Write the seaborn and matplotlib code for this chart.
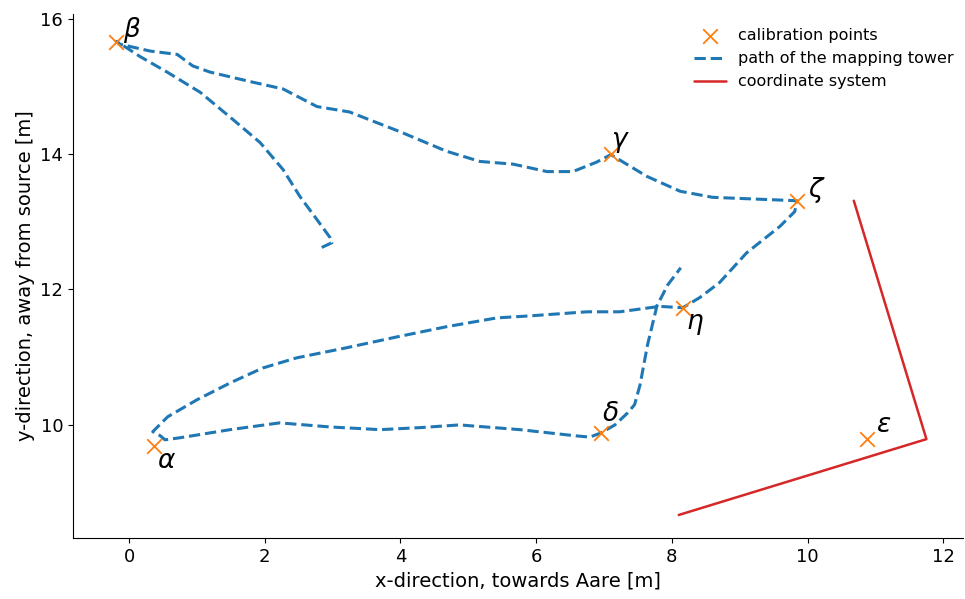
import matplotlib
matplotlib.use("Agg")
import matplotlib.pyplot as plt
import seaborn as sns
import pandas as pd

# Calibration points (name, x, y) in metres
point_names = [r"$\alpha$", r"$\beta$", r"$\gamma$", r"$\delta$", r"$\varepsilon$", r"$\zeta$", r"$\eta$"]
point_x = [0.37, -0.19, 7.10, 6.95, 10.88, 9.84, 8.16]
point_y = [9.69, 15.66, 14.00, 9.88, 9.79, 13.31, 11.72]

# Recorded path of the mapping tower
path_x = [2.84, 2.99, 2.96, 2.77, 2.52, 2.27, 1.93, 1.53, 1.05, 0.56, 0.16, -0.10, -0.19,
          -0.13, 0.31, 0.71, 0.94, 1.19, 1.78, 2.27, 2.77, 3.25, 3.99, 4.18, 4.68, 5.17,
          5.66, 6.16, 6.54, 6.89, 7.10, 7.63, 8.12, 8.60, 9.34, 9.84, 9.81, 9.59, 9.10,
          8.70, 8.41, 8.16, 7.82, 7.23, 6.75, 5.91, 5.42, 4.68, 3.95, 3.21, 2.47, 1.97,
          1.49, 1.00, 0.57, 0.35, 0.46, 0.53, 0.75, 1.49, 2.22, 2.96, 3.70, 4.29, 4.87,
          5.76, 6.57, 6.79, 6.95, 7.16, 7.35, 7.45, 7.53, 7.64, 7.78, 7.94, 8.13]
path_y = [12.62, 12.69, 12.77, 13.03, 13.37, 13.77, 14.17, 14.51, 14.91, 15.21, 15.44, 15.61, 15.66,
          15.62, 15.52, 15.47, 15.30, 15.21, 15.07, 14.96, 14.70, 14.62, 14.33, 14.25, 14.04, 13.89,
          13.85, 13.74, 13.74, 13.88, 13.99, 13.67, 13.45, 13.36, 13.33, 13.31, 13.15, 12.93, 12.54,
          12.10, 11.88, 11.73, 11.75, 11.67, 11.67, 11.61, 11.58, 11.45, 11.30, 11.14, 10.99, 10.84,
          10.62, 10.37, 10.12, 9.90, 9.84, 9.78, 9.81, 9.93, 10.03, 9.97, 9.93, 9.96, 10.00,
          9.93, 9.84, 9.82, 9.88, 10.00, 10.18, 10.30, 10.59, 11.18, 11.76, 12.07, 12.32]

# Local coordinate system axes
coord_x = [10.68, 11.75, 8.10]
coord_y = [13.31, 9.79, 8.67]

sns.set_theme(style="ticks", rc={
    "axes.edgecolor": "black", "text.color": "black", "axes.labelcolor": "black",
    "xtick.color": "black", "ytick.color": "black",
    "xtick.major.size": 3.5, "ytick.major.size": 3.5,
    "xtick.major.width": 0.8, "ytick.major.width": 0.8, "axes.linewidth": 0.8,
})
plt.rcParams["font.family"] = ["DejaVu Sans"]

fig, ax = plt.subplots(figsize=(9.65, 5.99), dpi=100)

points = pd.DataFrame({"x": point_x, "y": point_y})
path = pd.DataFrame({"x": path_x, "y": path_y})
coords = pd.DataFrame({"x": coord_x, "y": coord_y})

sns.scatterplot(data=points, x="x", y="y", marker="x", s=110, color="#ff7f0e",
                linewidth=1.3, ax=ax, label="calibration points", zorder=3)
sns.lineplot(data=path, x="x", y="y", sort=False, estimator=None, color="#1f77b4",
             linestyle="--", linewidth=2.2, ax=ax, label="path of the mapping tower", zorder=2)
sns.lineplot(data=coords, x="x", y="y", sort=False, estimator=None, color="#d62728",
             linewidth=1.8, ax=ax, label="coordinate system")

# Greek labels beside each calibration point (offsets in points)
label_offsets = {r"$\alpha$": (2, -16), r"$\beta$": (5, 3), r"$\gamma$": (0, 5),
                 r"$\delta$": (1, 9), r"$\varepsilon$": (6, 5), r"$\zeta$": (8, 3),
                 r"$\eta$": (2, -15)}
for name, px, py in zip(point_names, point_x, point_y):
    ax.annotate(name, (px, py), xytext=label_offsets[name], textcoords="offset points",
                fontsize=19, color="black")

ax.set_xlim(-0.826, 12.29)
ax.set_ylim(8.33, 16.07)
ax.set_yticks([10, 12, 14, 16])
ax.set_xlabel("x-direction, towards Aare [m]", fontsize=14)
ax.set_ylabel("y-direction, away from source [m]", fontsize=14)
ax.tick_params(labelsize=13)
sns.despine(ax=ax)
ax.legend(frameon=False, fontsize=11.5, loc="upper right", bbox_to_anchor=(1.006, 1.0))

fig.subplots_adjust(left=0.0756, right=0.998, top=0.977, bottom=0.1018)
fig.savefig("out.png", dpi=100)
